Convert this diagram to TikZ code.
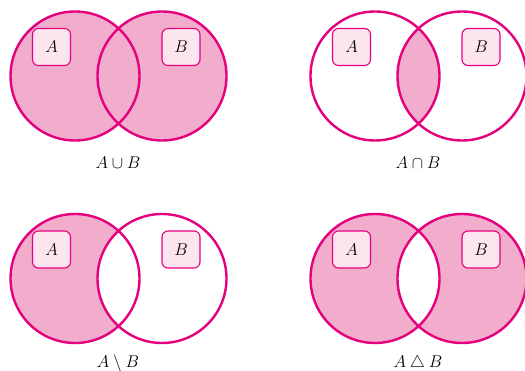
\documentclass[tikz,border=0pt]{standalone}
\usepackage{fix-cm}
\definecolor{vstroke}{HTML}{E5007E}
\definecolor{vfill}{HTML}{F2ACCC}
\definecolor{vbox}{HTML}{FCE5EF}
\tikzset{
  setcirc/.style={circle, draw=vstroke, line width=2.4pt, inner sep=0pt, minimum size=129pt},
  setlabel/.style={draw=vstroke, fill=vbox, line width=1.1pt, rounded corners=6pt, minimum width=38pt, minimum height=37pt, inner sep=0pt, font=\fontsize{17}{20}\selectfont},
  opname/.style={inner sep=0pt, font=\fontsize{17}{20}\selectfont}
}
\begin{document}
\begin{tikzpicture}[x=1pt,y=1pt]
\useasboundingbox (0,0) rectangle (525,370);
% centres (y up)
\coordinate (c1a) at (75,294);   \coordinate (c1b) at (162,294);
\coordinate (c2a) at (375,294);  \coordinate (c2b) at (462,294);
\coordinate (c3a) at (75,91.5);  \coordinate (c3b) at (162,91.5);
\coordinate (c4a) at (375,91.5); \coordinate (c4b) at (462,91.5);
\def\rad{64.5}
% ---- fills ----
% union
\fill[vfill] (c1a) circle (\rad) (c1b) circle (\rad);
% intersection
\begin{scope}
  \clip (c2a) circle (\rad);
  \fill[vfill] (c2b) circle (\rad);
\end{scope}
% difference
\fill[vfill] (c3a) circle (\rad);
\begin{scope}
  \clip (c3a) circle (\rad);
  \fill[white] (c3b) circle (\rad);
\end{scope}
% symmetric difference
\fill[vfill, even odd rule] (c4a) circle (\rad) (c4b) circle (\rad);
% ---- circles ----
\foreach \d in {1,2,3,4}{
  \node[setcirc] (A\d) at (c\d a) {};
  \node[setcirc] (B\d) at (c\d b) {};
}
% ---- set labels ----
\foreach \d in {1,2,3,4}{
  \node[setlabel] (la\d) at ([shift={(-23.5,29)}]c\d a) {$A$};
  \node[setlabel] (lb\d) at ([shift={(19,29)}]c\d b) {$B$};
}
% ---- operation names ----
\node[opname] (op1) at (118,207) {$A\cup B$};
\node[opname] (op2) at (418,207) {$A\cap B$};
\node[opname] (op3) at (118,6.5) {$A\setminus B$};
\node[opname] (op4) at (418,6.5) {$A\mathbin{\triangle} B$};
\end{tikzpicture}
\end{document}
